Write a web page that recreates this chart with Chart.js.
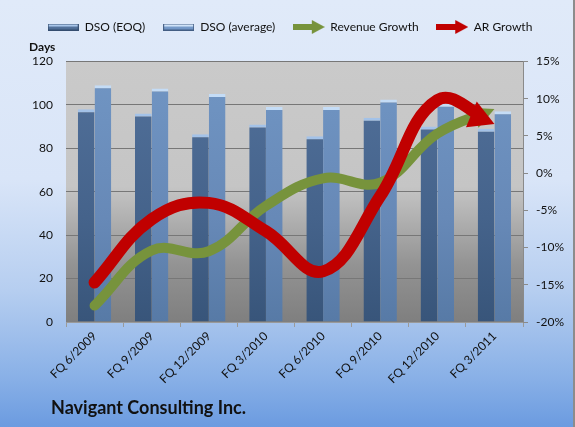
<!DOCTYPE html>
<html>
<head>
<meta charset="utf-8">
<script src="https://cdn.jsdelivr.net/npm/chart.js@4"></script>
<style>
  html, body { margin: 0; padding: 0; }
  #wrap {
    position: relative;
    width: 575px;
    height: 427px;
    background: linear-gradient(to bottom, #e0eaf9 0%, #d9e5f8 42%, #b6cef0 68%, #8ab1e7 88%, #6b9be0 100%);
  }
  #wrap::after {
    content: "";
    position: absolute;
    right: 0; top: 0;
    width: 2px; height: 427px;
    background: #8c8c8c;
  }
  #company {
    position: absolute;
    left: 51px;
    top: 396px;
    font: bold 18px Lato, sans-serif;
    line-height: 22px;
    color: #111;
  }
</style>
</head>
<body>
<div id="wrap">
  <canvas id="dsoChart" width="575" height="427"></canvas>
  <div id="company">Navigant Consulting Inc.</div>
</div>
<script>
const quarters = ["FQ 6/2009", "FQ 9/2009", "FQ 12/2009", "FQ 3/2010", "FQ 6/2010", "FQ 9/2010", "FQ 12/2010", "FQ 3/2011"];
const dsoEoq = [98, 96, 86.5, 91, 85.5, 94, 90, 89];
const dsoAvg = [109, 107.5, 105, 99, 99, 102.5, 100.5, 97];
const revenueGrowth = [-17.8, -10.4, -10.5, -4.4, -0.7, -1.3, 5.3, 8.6];
const arGrowth = [-14.7, -6.2, -4.0, -7.8, -13.2, -3.1, 9.8, 6.6];
const daysTicks = { min: 0, max: 120, step: 20 };
const pctTicks = { min: -20, max: 15, step: 5 };

Chart.defaults.font.family = "Lato, 'Noto Sans', sans-serif";
Chart.defaults.color = "#111";

// legend icons
function barIcon(top, bottom, cap) {
  const c = document.createElement("canvas");
  c.width = 31; c.height = 7;
  const g = c.getContext("2d");
  const gr = g.createLinearGradient(0, 0, 0, 7);
  gr.addColorStop(0, top);
  gr.addColorStop(1, bottom);
  g.fillStyle = gr;
  g.fillRect(0, 0, 31, 7);
  g.fillStyle = cap;
  g.fillRect(1, 1, 29, 2);
  g.strokeStyle = "rgba(40,60,90,0.6)";
  g.strokeRect(0.5, 0.5, 30, 6);
  return c;
}
function arrowIcon(color) {
  const c = document.createElement("canvas");
  c.width = 32; c.height = 14;
  const g = c.getContext("2d");
  g.fillStyle = color;
  g.fillRect(0, 4, 20, 6);
  g.beginPath();
  g.moveTo(19, 0); g.lineTo(32, 7); g.lineTo(19, 14);
  g.closePath();
  g.fill();
  return c;
}
const icons = [
  barIcon("#6686b0", "#46648c", "#a9c6ea"),
  barIcon("#86a9d6", "#6a8fc0", "#cfe2f8"),
  arrowIcon("#77933c"),
  arrowIcon("#c00000")
];

function vGrad(chart, stops) {
  const a = chart.chartArea;
  if (!a) return stops[0][1];
  const g = chart.ctx.createLinearGradient(0, a.top, 0, a.bottom);
  stops.forEach(s => g.addColorStop(s[0], s[1]));
  return g;
}

// gray plot area, legend nudged left like the original
const plotBg = {
  id: "plotBg",
  afterLayout(chart) {
    if (chart.legend) chart.legend.right -= 24;
  },
  beforeDraw(chart) {
    const a = chart.chartArea;
    const ctx = chart.ctx;
    ctx.save();
    ctx.fillStyle = vGrad(chart, [[0, "#cacaca"], [0.48, "#c5c5c5"], [0.78, "#939393"], [1, "#7f7f7f"]]);
    ctx.fillRect(a.left, a.top, a.right - a.left, a.bottom - a.top);
    ctx.restore();
  }
};

// arrow heads at the end of the growth lines
const heads = { 2: { len: 22, half: 11 }, 3: { len: 25, half: 14 } };
function endInfo(chart, index) {
  const pts = chart.getDatasetMeta(index).data;
  const p = pts[pts.length - 1];
  let dx = p.x - p.cp1x, dy = p.y - p.cp1y;
  const prev = pts[pts.length - 2];
  if (!isFinite(dx) || Math.hypot(dx, dy) < 0.5) { dx = p.x - prev.x; dy = p.y - prev.y; }
  const n = Math.hypot(dx, dy);
  return { x: p.x, y: p.y, dx: dx / n, dy: dy / n };
}
const arrowHeads = {
  id: "arrowHeads",
  beforeDatasetDraw(chart, args) {
    const h = heads[args.index];
    if (!h) return;
    const e = endInfo(chart, args.index);
    const bx = e.x - e.dx * (h.len - 1), by = e.y - e.dy * (h.len - 1);
    const nx = -e.dy, ny = e.dx, ctx = chart.ctx;
    ctx.save();
    ctx.beginPath();
    ctx.moveTo(bx + nx * 2000, by + ny * 2000);
    ctx.lineTo(bx + nx * 2000 - e.dx * 3000, by + ny * 2000 - e.dy * 3000);
    ctx.lineTo(bx - nx * 2000 - e.dx * 3000, by - ny * 2000 - e.dy * 3000);
    ctx.lineTo(bx - nx * 2000, by - ny * 2000);
    ctx.closePath();
    ctx.clip();
  },
  afterDatasetDraw(chart, args) {
    const h = heads[args.index];
    if (!h) return;
    const ctx = chart.ctx;
    ctx.restore();
    const e = endInfo(chart, args.index);
    const bx = e.x - e.dx * h.len, by = e.y - e.dy * h.len;
    const nx = -e.dy, ny = e.dx;
    ctx.save();
    ctx.fillStyle = chart.data.datasets[args.index].borderColor;
    ctx.beginPath();
    ctx.moveTo(e.x, e.y);
    ctx.lineTo(bx + nx * h.half, by + ny * h.half);
    ctx.lineTo(bx - nx * h.half, by - ny * h.half);
    ctx.closePath();
    ctx.fill();
    ctx.restore();
  }
};

new Chart(document.getElementById("dsoChart"), {
  type: "bar",
  data: {
    labels: quarters,
    datasets: [
      {
        label: "DSO (EOQ)",
        data: dsoEoq,
        yAxisID: "y",
        order: 2,
        backgroundColor: ctx => vGrad(ctx.chart, [[0, "#52719b"], [0.6, "#45638b"], [1, "#38557a"]]),
        borderColor: "#a3c2e8",
        borderWidth: { top: 3, left: 0, right: 0, bottom: 0 },
        borderSkipped: "bottom",
        categoryPercentage: 0.585,
        barPercentage: 1
      },
      {
        label: "DSO (average)",
        data: dsoAvg,
        yAxisID: "y",
        order: 2,
        backgroundColor: ctx => vGrad(ctx.chart, [[0, "#7196c4"], [0.6, "#6789b7"], [1, "#577aa6"]]),
        borderColor: "#c4dcf6",
        borderWidth: { top: 3, left: 0, right: 0, bottom: 0 },
        borderSkipped: "bottom",
        categoryPercentage: 0.585,
        barPercentage: 1
      },
      {
        type: "line",
        label: "Revenue Growth",
        data: revenueGrowth,
        yAxisID: "y1",
        order: 1,
        borderColor: "#77933c",
        backgroundColor: "#77933c",
        borderWidth: 10,
        borderCapStyle: "round",
        pointRadius: 0,
        tension: 0.4,
        fill: false
      },
      {
        type: "line",
        label: "AR Growth",
        data: arGrowth,
        yAxisID: "y1",
        order: 0,
        borderColor: "#c00000",
        backgroundColor: "#c00000",
        borderWidth: 12,
        borderCapStyle: "round",
        pointRadius: 0,
        tension: 0.4,
        fill: false
      }
    ]
  },
  options: {
    responsive: false,
    animation: false,
    devicePixelRatio: 1,
    layout: { padding: { left: 29, right: 0, top: 3, bottom: 0 } },
    plugins: {
      legend: {
        position: "top",
        weight: 3000,
        labels: {
          usePointStyle: true,
          pointStyleWidth: 31,
          padding: 18,
          color: "#111",
          font: { size: 12 },
          sort: (a, b) => a.datasetIndex - b.datasetIndex,
          generateLabels: chart => {
            const items = Chart.defaults.plugins.legend.labels.generateLabels(chart);
            items.forEach(it => { it.pointStyle = icons[it.datasetIndex]; });
            return items;
          }
        }
      },
      title: {
        display: true,
        text: "Days",
        align: "start",
        position: "top",
        color: "#111",
        font: { size: 12, weight: "bold" },
        padding: { top: -3, bottom: 7 }
      },
      tooltip: { enabled: false }
    },
    scales: {
      x: {
        grid: { display: true, drawOnChartArea: false, drawTicks: true, tickLength: 5, color: "#9a9a9a", offset: true },
        border: { color: "#9a9a9a" },
        ticks: { minRotation: 45, maxRotation: 45, color: "#111", font: { size: 12 }, padding: 2 },
        afterFit: s => { s.height = 105; }
      },
      y: {
        position: "left",
        min: daysTicks.min,
        max: daysTicks.max,
        ticks: { stepSize: daysTicks.step, color: "#111", font: { size: 12 }, padding: 13 },
        grid: { color: "#777", drawTicks: false },
        border: { display: false },
        afterFit: s => { s.width = 37; }
      },
      y1: {
        position: "right",
        min: pctTicks.min,
        max: pctTicks.max,
        ticks: { stepSize: pctTicks.step, color: "#111", font: { size: 12 }, padding: 8, callback: v => v + "%" },
        grid: { drawOnChartArea: false, drawTicks: true, tickLength: 5, color: "#8a8a8a" },
        border: { color: "#8a8a8a" },
        afterFit: s => { s.width = 52; }
      }
    }
  },
  plugins: [plotBg, arrowHeads]
});
</script>
</body>
</html>
